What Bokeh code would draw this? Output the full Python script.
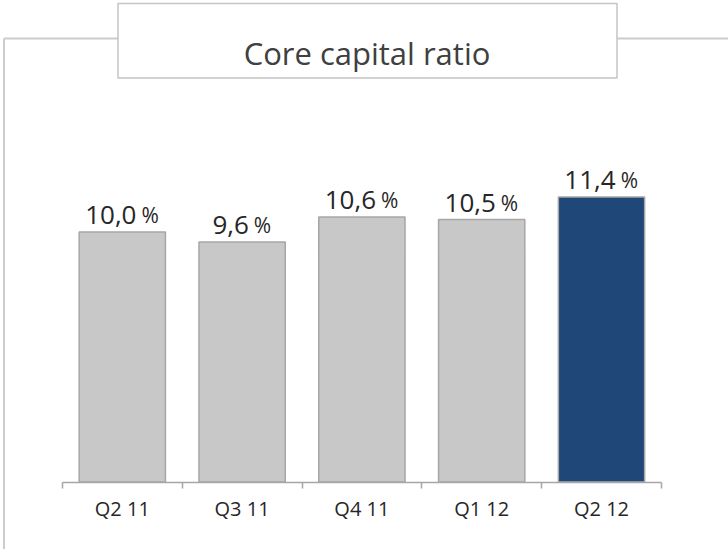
from bokeh.plotting import figure
from bokeh.models import Range1d, LinearAxis, FixedTicker, ColumnDataSource
from bokeh.core.properties import value
from bokeh.embed import file_html
from bokeh.resources import INLINE

# ---- data ----
categories = ["Q2 11", "Q3 11", "Q4 11", "Q1 12", "Q2 12"]
ratios = [10.0, 9.6, 10.6, 10.5, 11.4]
title_text = "Core capital ratio"
highlight = "Q2 12"

# ---- layout constants (pixels) ----
W, H = 728, 549
PX_PER_CAT = 119.8
FIRST_CENTER = 121.8
BASE_Y = 481.5
PX_PER_UNIT = 25.0

FONT = "Open Sans"
GRAY = "#c8c8c8"
EDGE = "#a6a6a6"
BLUE = "#1f4778"
TXT = "#262626"

n = len(categories)
x0 = -FIRST_CENTER / PX_PER_CAT
x1 = x0 + W / PX_PER_CAT
y1 = BASE_Y / PX_PER_UNIT
y0 = -(H - BASE_Y) / PX_PER_UNIT

p = figure(width=W, height=H, x_range=Range1d(x0, x1), y_range=Range1d(y0, y1),
           output_backend="svg", toolbar_location=None,
           x_axis_location=None, y_axis_location=None, min_border=0,
           outline_line_color=None, background_fill_color="white",
           border_fill_color="white")
p.xgrid.visible = False
p.ygrid.visible = False

p.extra_x_ranges = {"px": Range1d(0, W)}
p.extra_y_ranges = {"px": Range1d(H, 0)}

# frame lines
p.segment(x0=[3.5, 3.5], y0=[38, 38], x1=[3.5, W], y1=[H, 38],
          line_color="#cccccc", line_width=2, x_range_name="px", y_range_name="px")
# title box
p.quad(left=[117.5], right=[616.5], top=[3], bottom=[77.5], fill_color="white",
       line_color="#c4c4c4", line_width=1.5, x_range_name="px", y_range_name="px")
p.text(x=[366.5], y=[52], text=[title_text], text_align="center",
       text_baseline="alphabetic", text_font=value(FONT), text_font_size="31px",
       text_color="#404040", x_range_name="px", y_range_name="px")

# bars
NUM_SIZE, PCT_SIZE, GAP = 26, 21, 5
num_labels = [f"{v:.1f}".replace(".", ",") for v in ratios]


def num_width(s):
    return sum(NUM_SIZE * (0.245 if ch == "," else 0.572) for ch in s)


pct_w = PCT_SIZE * 0.84
num_off = [-(num_width(s) + GAP + pct_w) / 2 + num_width(s) for s in num_labels]
pct_off = [o + GAP for o in num_off]

src = ColumnDataSource(dict(
    x=list(range(n)), top=ratios,
    color=[BLUE if c == highlight else GRAY for c in categories],
    num=num_labels, pct=["%"] * n, num_off=num_off, pct_off=pct_off,
))
p.vbar(x="x", top="top", bottom=0, width=0.72, fill_color="color",
       line_color=EDGE, line_width=1.5, source=src)

p.text(x="x", y="top", text="num", x_offset="num_off", y_offset=-17,
       text_align="right", text_baseline="alphabetic", text_font=value(FONT),
       text_font_size=f"{NUM_SIZE}px", text_color=TXT, source=src)
p.text(x="x", y="top", text="pct", x_offset="pct_off", y_offset=-17,
       text_align="left", text_baseline="alphabetic", text_font=value(FONT),
       text_font_size=f"{PCT_SIZE}px", text_color=TXT, source=src)

# axis with boundary ticks
bticks = [i - 0.5 for i in range(n + 1)]
tick_axis = LinearAxis(fixed_location=0, ticker=FixedTicker(ticks=bticks),
                       bounds=(-0.5, n - 0.5), axis_line_color=EDGE, axis_line_width=1.5,
                       major_tick_line_color=EDGE, major_tick_line_width=1.5,
                       major_tick_in=0, major_tick_out=6, minor_tick_line_color=None,
                       major_label_text_font_size="0px",
                       major_label_overrides={t: "" for t in bticks})
p.add_layout(tick_axis, "below")

# axis with category labels
label_axis = LinearAxis(fixed_location=0, ticker=FixedTicker(ticks=list(range(n))),
                        major_label_overrides={i: c for i, c in enumerate(categories)},
                        axis_line_color=None, major_tick_line_color=None,
                        minor_tick_line_color=None, major_tick_in=0, major_tick_out=0,
                        major_label_standoff=13, major_label_text_font=FONT,
                        major_label_text_font_size="20px", major_label_text_color=TXT)
p.add_layout(label_axis, "below")

open("out.html", "w").write(file_html(p, INLINE))
